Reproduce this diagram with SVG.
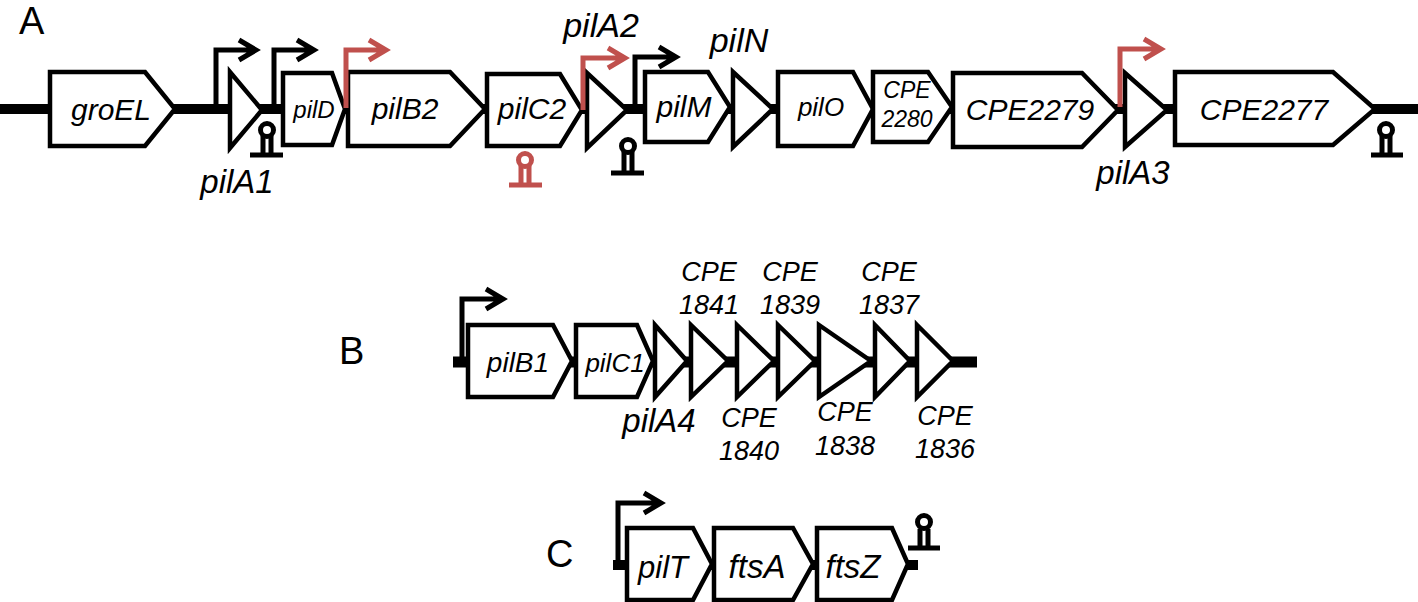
<svg xmlns="http://www.w3.org/2000/svg" width="1418" height="602" viewBox="0 0 1418 602">
<style>
.bb{stroke:#000;stroke-width:10;fill:none}
.g{fill:#fff;stroke:#000;stroke-width:4.5;stroke-linejoin:miter}
.p{fill:none;stroke:#000;stroke-width:5;stroke-linejoin:miter}
.pr{fill:none;stroke:#c0504d;stroke-width:5;stroke-linejoin:miter}
.t{fill:#fff;stroke:#000;stroke-width:5}
.tr{fill:#fff;stroke:#c0504d;stroke-width:5}
.tl{stroke:#000;stroke-width:5;fill:none}
.tlr{stroke:#c0504d;stroke-width:5;fill:none}
.lb{font-family:"Liberation Sans",Arial,sans-serif;font-style:italic;fill:#000;text-anchor:middle}
.pl{font-family:"Liberation Sans",Arial,sans-serif;font-size:38px;fill:#000}
</style>
<rect width="1418" height="602" fill="#fff"/>

<g id="panel-labels">
<text class="pl" x="19" y="34">A</text>
<text class="pl" x="339" y="364">B</text>
<text class="pl" x="546" y="567">C</text>
</g>

<g id="connectors">
<line class="bb" x1="0" y1="109" x2="1418" y2="109"/>
<line class="bb" x1="453" y1="362" x2="977" y2="362" style="stroke-width:11"/>
<line class="bb" x1="613" y1="565" x2="918" y2="565"/>
</g>

<!-- Row A genes -->
<g id="groEL"><polygon class="g" points="50,72 145,72 175,109 145,146 50,146"/><text class="lb" x="111" y="120" font-size="30">groEL</text></g>
<g id="pilA1"><polygon class="g" points="230,72 262,110 230,148"/><text class="lb" x="237" y="193" font-size="33">pilA1</text></g>
<g id="pilD"><polygon class="g" points="283,73 332,73 345,109 332,145 283,145"/><text class="lb" x="314" y="118" font-size="24">pilD</text></g>
<g id="pilB2"><polygon class="g" points="348,72 450,72 485,109 450,146 348,146"/><text class="lb" x="405" y="119" font-size="30">pilB2</text></g>
<g id="pilC2"><polygon class="g" points="487,74 560,74 582,110 560,146 487,146"/><text class="lb" x="532" y="119" font-size="30">pilC2</text></g>
<g id="pilA2"><polygon class="g" points="587,73 627,110 587,148"/><text class="lb" x="601" y="37" font-size="34">pilA2</text></g>
<g id="pilM"><polygon class="g" points="645,72 708,72 730,107 708,142 645,142"/><text class="lb" x="684" y="117" font-size="30">pilM</text></g>
<g id="pilN"><polygon class="g" points="733,72 773,109 733,147"/><text class="lb" x="739" y="52" font-size="34">pilN</text></g>
<g id="pilO"><polygon class="g" points="778,72 853,72 873,109 853,146 778,146"/><text class="lb" x="821" y="116" font-size="26">pilO</text></g>
<g id="CPE2280"><polygon class="g" points="873,72 928,72 952,107 928,142 873,142"/><text class="lb" x="907" y="98" font-size="23">CPE</text><text class="lb" x="907" y="127" font-size="23">2280</text></g>
<g id="CPE2279"><polygon class="g" points="953,73 1082,73 1118,110 1082,147 953,147"/><text class="lb" x="1030" y="120" font-size="30">CPE2279</text></g>
<g id="pilA3"><polygon class="g" points="1125,73 1167,110 1125,147"/><text class="lb" x="1133" y="184" font-size="33">pilA3</text></g>
<g id="CPE2277"><polygon class="g" points="1175,72 1333,72 1375,109 1333,145 1175,145"/><text class="lb" x="1264" y="120" font-size="30">CPE2277</text></g>

<!-- Row A promoters -->
<g id="promA1"><path class="p" d="M216,109 V50 H256 M239,40 L256,50 L239,60"/></g>
<g id="promA2"><path class="p" d="M274,109 V50 H314 M297,40 L314,50 L297,60"/></g>
<g id="promA3"><path class="pr" d="M346,108 V50 H386 M369,40 L386,50 L369,60"/></g>
<g id="promA4"><path class="pr" d="M583,110 V58 H625 M608,48 L625,58 L608,68"/></g>
<g id="promA5"><path class="p" d="M635,108 V57 H676 M659,47 L676,57 L659,67"/></g>
<g id="promA6"><path class="pr" d="M1120,107 V49 H1161 M1144,39 L1161,49 L1144,59"/></g>

<!-- Row A terminators -->
<g id="termA1"><path class="tl" d="M263,136 V154 M271,136 V154 M250,155 H283"/><circle class="t" cx="267" cy="130" r="6.5"/></g>
<g id="termA2"><path class="tlr" d="M521,166 V184 M529,166 V184 M509,185 H542"/><circle class="tr" cx="525" cy="160" r="6.5"/></g>
<g id="termA3"><path class="tl" d="M624,152 V172 M632,152 V172 M611,173 H644"/><circle class="t" cx="628" cy="146" r="6.5"/></g>
<g id="termA4"><path class="tl" d="M1382,136 V154 M1390,136 V154 M1371,155 H1403"/><circle class="t" cx="1386" cy="130" r="6.5"/></g>

<!-- Row B -->
<g id="pilB1"><polygon class="g" points="468,325 553,325 572,361 553,397 468,397"/><text class="lb" x="518" y="372" font-size="28">pilB1</text></g>
<g id="pilC1"><polygon class="g" points="576,325 637,325 653,361 637,397 576,397"/><text class="lb" x="615" y="372" font-size="26">pilC1</text></g>
<g id="pilA4"><polygon class="g" points="655,325 687,361 655,397"/><text class="lb" x="659" y="432" font-size="33">pilA4</text></g>
<g id="CPE1841"><polygon class="g" points="691,325 728,361 691,397"/><text class="lb" x="709" y="281" font-size="27">CPE</text><text class="lb" x="709" y="314" font-size="27">1841</text></g>
<g id="CPE1840"><polygon class="g" points="737,325 774,361 737,397"/><text class="lb" x="749" y="427" font-size="27">CPE</text><text class="lb" x="749" y="460" font-size="27">1840</text></g>
<g id="CPE1839"><polygon class="g" points="778,325 815,361 778,397"/><text class="lb" x="790" y="281" font-size="27">CPE</text><text class="lb" x="790" y="314" font-size="27">1839</text></g>
<g id="CPE1838"><polygon class="g" points="819,325 871,361 819,397"/><text class="lb" x="845" y="421" font-size="27">CPE</text><text class="lb" x="845" y="455" font-size="27">1838</text></g>
<g id="CPE1837"><polygon class="g" points="875,325 910,361 875,397"/><text class="lb" x="889" y="281" font-size="27">CPE</text><text class="lb" x="889" y="314" font-size="27">1837</text></g>
<g id="CPE1836"><polygon class="g" points="917,325 953,361 917,397"/><text class="lb" x="945" y="425" font-size="27">CPE</text><text class="lb" x="945" y="458" font-size="27">1836</text></g>
<g id="promB"><path class="p" d="M462,362 V299 H503 M486,289 L503,299 L486,309"/></g>

<!-- Row C -->
<g id="pilT"><polygon class="g" points="627,528 693,528 712,564 693,600 627,600"/><text class="lb" x="663" y="578" font-size="31">pilT</text></g>
<g id="ftsA"><polygon class="g" points="714,528 793,528 813,564 793,600 714,600"/><text class="lb" x="757" y="578" font-size="33">ftsA</text></g>
<g id="ftsZ"><polygon class="g" points="817,528 892,528 908,564 892,600 817,600"/><text class="lb" x="853" y="578" font-size="33">ftsZ</text></g>
<g id="promC"><path class="p" d="M618,565 V503 H661 M644,493 L661,503 L644,513"/></g>
<g id="termC"><path class="tl" d="M920,529 V547 M928,529 V547 M908,548 H940"/><circle class="t" cx="924" cy="522" r="6.5"/></g>
</svg>
